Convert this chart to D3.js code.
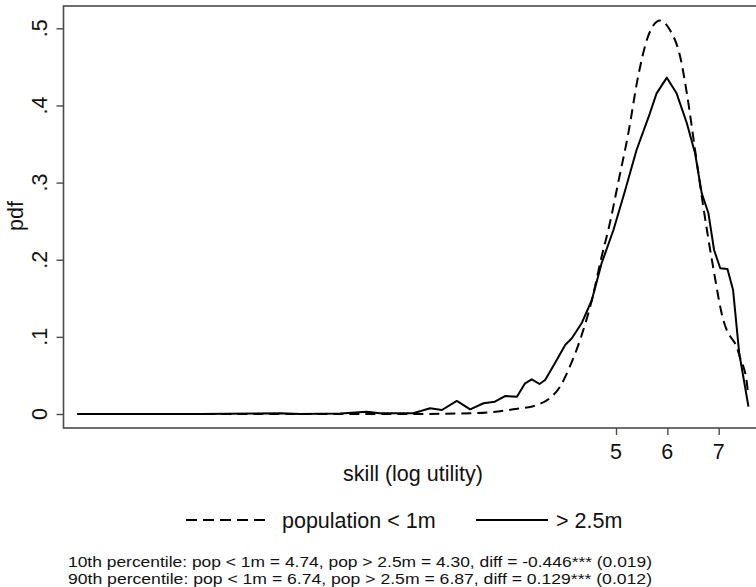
<!DOCTYPE html>
<html>
<head>
<meta charset="utf-8">
<script src="https://cdn.jsdelivr.net/npm/d3@7"></script>
<style>
  html, body { margin: 0; padding: 0; background: #fff; }
  svg { display: block; }
  text { font-family: "Liberation Sans", Arial, Helvetica, sans-serif; fill: #111; }
</style>
</head>
<body>
<svg id="chart" width="756" height="587"></svg>
<script>
// Kernel density estimates of skill (log utility) by city size
const smallSkill = [-5.49, -3.0, 0.0, 1.05, 2.22, 3.00, 3.46, 3.71, 3.91, 4.10, 4.30, 4.53, 4.72, 4.88, 5.04, 5.24, 5.43, 5.60, 5.72, 5.86, 6.05, 6.25, 6.38, 6.54, 6.70, 6.89, 7.09, 7.17, 7.25, 7.35, 7.41, 7.55, 7.57];
const smallPdf   = [0, 0, 0, 0, 0.001, 0.0061, 0.0117, 0.0204, 0.0354, 0.0613, 0.0959, 0.1478, 0.2039, 0.2472, 0.2991, 0.3639, 0.4373, 0.4848, 0.503, 0.510, 0.4978, 0.4632, 0.4157, 0.3422, 0.2687, 0.191, 0.1219, 0.1067, 0.0981, 0.0872, 0.0743, 0.0398, 0.0246];

const largeSkill = [-5.49, -3.10, -1.54, -1.15, -0.37, 0.145, 0.40, 1.05, 1.38, 1.61, 1.90, 2.16, 2.42, 2.64, 2.84, 3.07, 3.23, 3.36, 3.51, 3.62, 3.81, 4.01, 4.14, 4.33, 4.53, 4.72, 4.95, 5.18, 5.40, 5.66, 5.79, 5.99, 6.18, 6.38, 6.54, 6.67, 6.80, 6.91, 7.03, 7.17, 7.28, 7.40, 7.49, 7.58];
const largePdf   = [0, 0, 0.001, 0, 0.0006, 0.003, 0.001, 0.001, 0.0074, 0.0052, 0.0169, 0.0061, 0.0139, 0.016, 0.0233, 0.0224, 0.0398, 0.045, 0.0389, 0.0441, 0.0657, 0.0894, 0.0981, 0.1176, 0.1478, 0.1954, 0.2385, 0.2904, 0.3422, 0.3898, 0.4157, 0.436, 0.4157, 0.3769, 0.338, 0.2861, 0.2602, 0.2126, 0.1889, 0.188, 0.1607, 0.0787, 0.0441, 0.0095];

const xTickValues = [5, 6, 7];
const yTickValues = [0, 0.1, 0.2, 0.3, 0.4, 0.5];
const yTickLabels = ["0", ".1", ".2", ".3", ".4", ".5"];

const seriesNames = ["population < 1m", "> 2.5m"];
const xTitle = "skill (log utility)";
const yTitle = "pdf";
const noteLines = [
  "10th percentile: pop < 1m = 4.74, pop > 2.5m = 4.30, diff = -0.446*** (0.019)",
  "90th percentile: pop < 1m = 6.74, pop > 2.5m = 6.87, diff = 0.129*** (0.012)"
];

const svg = d3.select("#chart");

// plot region
const plot = { left: 63.5, top: 6, right: 762, bottom: 428 };
const x = d3.scaleLinear().domain([5, 7]).range([616, 718.7]);
const y = d3.scaleLinear().domain([0, 0.5]).range([414, 28.3]);

const frameColor = "#4a4a4a";
const fontSize = 21.5;

svg.append("rect")
  .attr("x", plot.left).attr("y", plot.top)
  .attr("width", plot.right - plot.left).attr("height", plot.bottom - plot.top)
  .attr("fill", "none").attr("stroke", frameColor).attr("stroke-width", 1.6);

// y axis
const yAxis = d3.axisLeft(y).tickValues(yTickValues).tickSize(7).tickSizeOuter(0).tickFormat("");
const yg = svg.append("g").attr("transform", `translate(${plot.left},0)`).call(yAxis);
yg.select(".domain").remove();
yg.selectAll(".tick line").attr("stroke", frameColor).attr("stroke-width", 1.4);
yTickValues.forEach((v, i) => {
  svg.append("text")
    .attr("transform", `translate(46.5,${y(v)}) rotate(-90)`)
    .attr("text-anchor", "middle")
    .attr("font-size", fontSize)
    .text(yTickLabels[i]);
});

// x axis
const xAxis = d3.axisBottom(x).tickValues(xTickValues).tickSize(7).tickSizeOuter(0).tickFormat("");
const xg = svg.append("g").attr("transform", `translate(0,${plot.bottom})`).call(xAxis);
xg.select(".domain").remove();
xg.selectAll(".tick line").attr("stroke", frameColor).attr("stroke-width", 1.4);
xTickValues.forEach(v => {
  svg.append("text")
    .attr("x", x(v)).attr("y", 458.5)
    .attr("text-anchor", "middle")
    .attr("font-size", fontSize)
    .text(d3.format("d")(v));
});

// axis titles
svg.append("text")
  .attr("x", 413).attr("y", 480.5)
  .attr("text-anchor", "middle")
  .attr("font-size", fontSize)
  .text(xTitle);
svg.append("text")
  .attr("transform", `translate(22.5,216) rotate(-90)`)
  .attr("text-anchor", "middle")
  .attr("font-size", fontSize)
  .text(yTitle);

// density curves
svg.append("clipPath").attr("id", "plotclip")
  .append("rect").attr("x", plot.left).attr("y", plot.top)
  .attr("width", plot.right - plot.left).attr("height", plot.bottom - plot.top);

const smallData = smallSkill.map((s, i) => [s, smallPdf[i]]);
const largeData = largeSkill.map((s, i) => [s, largePdf[i]]);

const lineSmooth = d3.line().x(d => x(d[0])).y(d => y(d[1])).curve(d3.curveMonotoneX);
const lineRough = d3.line().x(d => x(d[0])).y(d => y(d[1]));

const g = svg.append("g").attr("clip-path", "url(#plotclip)");
g.append("path").datum(largeData)
  .attr("d", lineRough)
  .attr("fill", "none").attr("stroke", "#000").attr("stroke-width", 2)
  .attr("stroke-linejoin", "round");
g.append("path").datum(smallData)
  .attr("d", lineSmooth)
  .attr("fill", "none").attr("stroke", "#000").attr("stroke-width", 2)
  .attr("stroke-dasharray", "10,6");

// legend
const legY = 520;
svg.append("line").attr("x1", 186).attr("x2", 267).attr("y1", legY).attr("y2", legY)
  .attr("stroke", "#000").attr("stroke-width", 2).attr("stroke-dasharray", "11,6");
svg.append("text").attr("x", 282).attr("y", 527.5).attr("font-size", fontSize).text(seriesNames[0]);
svg.append("line").attr("x1", 476).attr("x2", 548).attr("y1", legY).attr("y2", legY)
  .attr("stroke", "#000").attr("stroke-width", 2);
svg.append("text").attr("x", 556).attr("y", 527.5).attr("font-size", fontSize).text(seriesNames[1]);

// two-line note under the legend
noteLines.forEach((t, i) => {
  svg.append("text")
    .attr("font-size", 15)
    .attr("x", 68).attr("y", 566.5 + i * 17)
    .attr("textLength", 584).attr("lengthAdjust", "spacingAndGlyphs")
    .text(t);
});
</script>
</body>
</html>
